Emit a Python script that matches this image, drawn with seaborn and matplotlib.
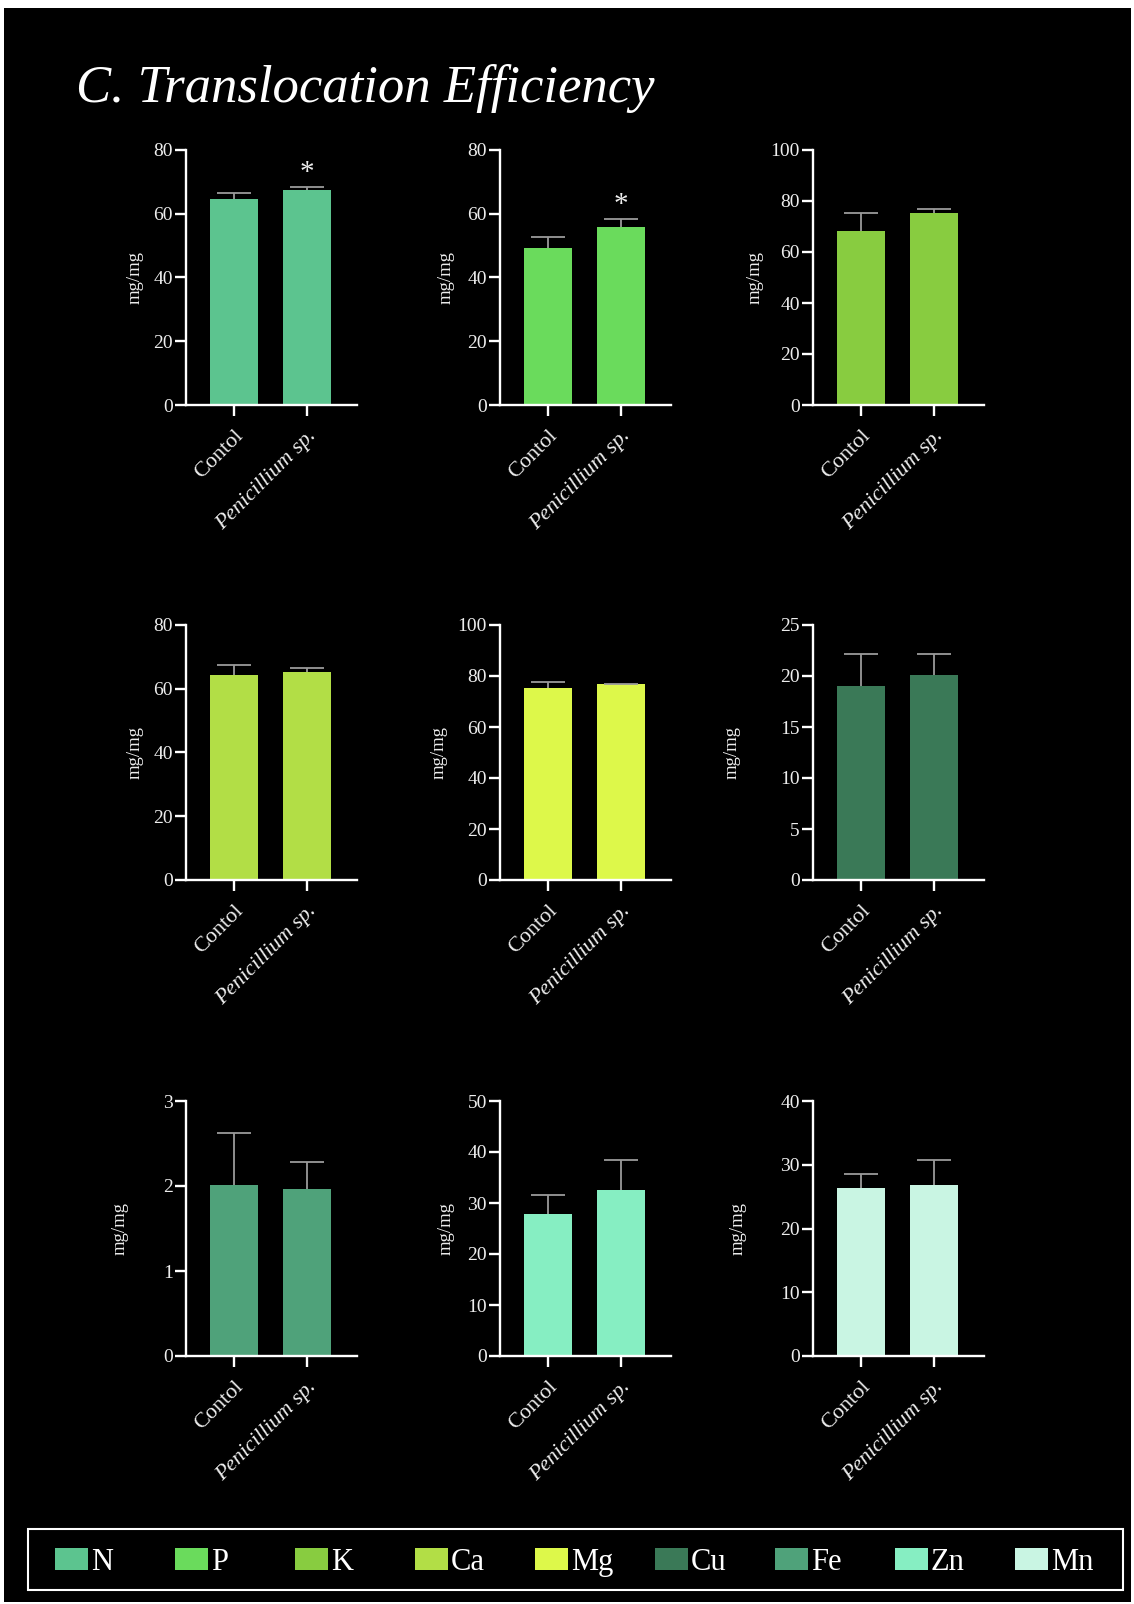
import matplotlib
matplotlib.use("Agg")
import matplotlib.pyplot as plt
import seaborn as sns
import pandas as pd
from matplotlib.patches import Rectangle

# ---- data -------------------------------------------------------------
elements = ["N", "P", "K", "Ca", "Mg", "Cu", "Fe", "Zn", "Mn"]
groups = ["Contol", "Penicillium sp."]
colors = ["#5CC48F", "#6ADB5C", "#88CC40", "#B2DE46", "#DDF84A",
          "#3A7957", "#4FA27A", "#86EEC2", "#C9F5E3"]

n_mean, n_err = [64.6, 67.5], [1.8, 0.8]
p_mean, p_err = [49.2, 55.9], [3.6, 2.4]
k_mean, k_err = [68.2, 75.2], [7.0, 1.7]
ca_mean, ca_err = [64.4, 65.4], [2.9, 1.0]
mg_mean, mg_err = [75.2, 76.8], [2.6, 0.2]
cu_mean, cu_err = [19.0, 20.1], [3.2, 2.1]
fe_mean, fe_err = [2.01, 1.96], [0.61, 0.32]
zn_mean, zn_err = [27.8, 32.6], [3.8, 5.8]
mn_mean, mn_err = [26.4, 26.9], [2.1, 3.9]

means = [n_mean, p_mean, k_mean, ca_mean, mg_mean, cu_mean, fe_mean, zn_mean, mn_mean]
errors = [n_err, p_err, k_err, ca_err, mg_err, cu_err, fe_err, zn_err, mn_err]
y_max = [80, 80, 100, 80, 100, 25, 3, 50, 40]
y_step = [20, 20, 20, 20, 20, 5, 1, 10, 10]
significant = [[False, True], [False, True], [False, False],
               [False, False], [False, False], [False, False],
               [False, False], [False, False], [False, False]]

# ---- style ------------------------------------------------------------
sns.set_style("ticks")
plt.rcParams["font.family"] = ["Liberation Serif", "DejaVu Serif"]

W, H = 1134, 1604
fig = plt.figure(figsize=(W / 100, H / 100), dpi=100, facecolor="white")


def fx(px):
    return px / W


def fy(py):
    return 1 - py / H


# black canvas inside a thin white margin
fig.add_artist(Rectangle((fx(4), fy(1602)), fx(1131) - fx(4), fy(8) - fy(1602),
                         transform=fig.transFigure, facecolor="black",
                         edgecolor="none", zorder=0))

fig.text(fx(76), fy(102), "C. Translocation Efficiency", color="white",
         fontsize=38, fontstyle="italic", va="baseline", ha="left")

col_left = [186, 500, 813]
row_top = [150, 625, 1101]
ax_w, ax_h = 171, 255
label_offset = [42, 45, 49, 42, 52, 72, 57, 45, 66]
fg = "#ededed"

for i, el in enumerate(elements):
    r, c = divmod(i, 3)
    left, top = col_left[c], row_top[r]
    ax = fig.add_axes([fx(left), fy(top + ax_h), ax_w / W, ax_h / H])
    ax.set_facecolor("black")
    df = pd.DataFrame({"group": groups, "value": means[i]})
    sns.barplot(data=df, x="group", y="value", color=colors[i], saturation=1,
                width=0.66, errorbar=None, ax=ax, zorder=2,
                linewidth=0, edgecolor="none")
    # one-sided (upper) error bars: hide the cap drawn at the bar top
    eb = ax.errorbar(x=[0, 1], y=means[i], yerr=[[0, 0], errors[i]], fmt="none",
                     ecolor="#9a9a9a", elinewidth=1.3, capsize=12, capthick=1.3,
                     zorder=3)
    eb[1][0].set_visible(False)
    for j, sig in enumerate(significant[i]):
        if sig:
            ax.annotate("*", (j, means[i][j] + errors[i][j]), xytext=(0, 1),
                        textcoords="offset points", ha="center", va="bottom",
                        color=fg, fontsize=21)
    ax.set_xlim(-0.658, 1.685)
    ax.set_ylim(0, y_max[i])
    ax.set_yticks(range(0, y_max[i] + 1, y_step[i]))
    for s in ("top", "right"):
        ax.spines[s].set_visible(False)
    for s in ("left", "bottom"):
        ax.spines[s].set_color("white")
        ax.spines[s].set_linewidth(1.7)
    ax.tick_params(axis="both", colors="white", length=8, width=1.7,
                   labelcolor=fg)
    ax.tick_params(axis="y", labelsize=14, pad=1.5)
    ax.tick_params(axis="x", labelsize=16, pad=7)
    ax.set_xlabel("")
    ax.set_ylabel("mg/mg", color=fg, fontsize=13.5)
    ax.yaxis.set_label_coords(-label_offset[i] / ax_w, 0.5)
    ax.set_xticks([0, 1])
    ax.set_xticklabels(groups, rotation=45, ha="right", va="top",
                       rotation_mode="anchor")
    ax.get_xticklabels()[1].set_fontstyle("italic")

# legend row
fig.add_artist(Rectangle((fx(28), fy(1590)), fx(1123) - fx(28), fy(1529) - fy(1590),
                         transform=fig.transFigure, facecolor="none",
                         edgecolor="white", linewidth=1.5, zorder=5))
for k, (el, col) in enumerate(zip(elements, colors)):
    x0 = 55 + 120 * k
    fig.add_artist(Rectangle((fx(x0), fy(1570)), 33 / W, 22 / H,
                             transform=fig.transFigure, facecolor=col,
                             edgecolor="none", zorder=5))
    fig.text(fx(x0 + 36), fy(1570), el, color="white", fontsize=22,
             va="baseline", ha="left")

fig.savefig("out.png", dpi=100, facecolor=fig.get_facecolor())
